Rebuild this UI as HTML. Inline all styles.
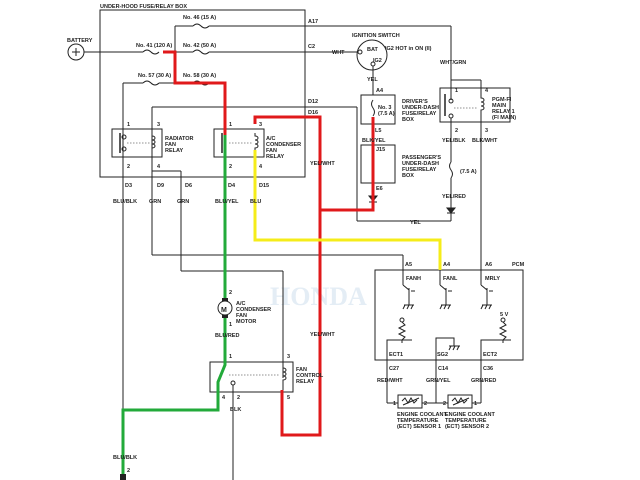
<!DOCTYPE html>
<html><head><meta charset="utf-8"><style>
html,body{margin:0;padding:0;background:#fff;}
svg{display:block;font-family:"Liberation Sans",sans-serif;font-weight:bold;}
text{font-size:5.5px;fill:#222;}
</style></head><body>
<svg width="640" height="480" viewBox="0 0 640 480" xmlns="http://www.w3.org/2000/svg">
<text x="270" y="305" style="font-size:26px;fill:#e4edf5;font-family:'Liberation Serif',serif">HONDA</text>
<g fill="none" stroke="#222" stroke-width="1">
<rect x="100" y="10" width="205" height="167"/>
<circle cx="76" cy="52" r="8"/>
<line x1="72" y1="52" x2="80" y2="52"/><line x1="76" y1="48" x2="76" y2="56"/>
<line x1="84" y1="52" x2="143" y2="52"/>
<path d="M143 52 q4 -4 8 0 q4 4 8 0"/>
<line x1="175" y1="26" x2="175" y2="52"/>
<line x1="175" y1="26" x2="193" y2="26"/><path d="M193 26 q4 -4 8 0 q4 4 8 0"/><line x1="209" y1="26" x2="451" y2="26"/>
<line x1="451" y1="26" x2="451" y2="100"/>
<line x1="175" y1="52" x2="193" y2="52"/><path d="M193 52 q4 -4 8 0 q4 4 8 0"/><line x1="209" y1="52" x2="358" y2="52"/>
<circle cx="360" cy="52" r="2"/>
<line x1="123" y1="83" x2="143" y2="83"/><path d="M143 83 q4 -4 8 0 q4 4 8 0"/><line x1="159" y1="83" x2="175" y2="83"/>
<path d="M193 83 q4 -4 8 0 q4 4 8 0"/>
<line x1="123" y1="83" x2="123" y2="480"/>
<line x1="152" y1="107" x2="357" y2="107"/>
<line x1="357" y1="107" x2="357" y2="221"/>
<line x1="357" y1="221" x2="451" y2="221"/>
<line x1="152" y1="107" x2="152" y2="255"/>
<line x1="152" y1="255" x2="403" y2="255"/>
<line x1="403" y1="255" x2="403" y2="270"/>
<line x1="152" y1="171" x2="181" y2="171"/>
<line x1="181" y1="171" x2="181" y2="271"/>
<line x1="181" y1="271" x2="283" y2="271"/>
<line x1="283" y1="271" x2="283" y2="378"/>
<rect x="112" y="129" width="50" height="28"/>
<line x1="120" y1="133" x2="120" y2="153" stroke-width="1.5"/>
<circle cx="124" cy="137" r="2"/><circle cx="124" cy="149" r="2"/>
<path d="M152 133 v3 c4 0 4 4 0 4 c4 0 4 4 0 4 c4 0 4 4 0 4 v5" />
<line x1="127" y1="143" x2="150" y2="143" stroke-dasharray="1.5,1.5" stroke-width=".6"/>
<rect x="214" y="129" width="50" height="28"/>
<line x1="222" y1="133" x2="222" y2="153" stroke-width="1.5"/>
<path d="M255 133 v3 c4 0 4 4 0 4 c4 0 4 4 0 4 c4 0 4 4 0 4 v5"/>
<line x1="229" y1="143" x2="252" y2="143" stroke-dasharray="1.5,1.5" stroke-width=".6"/>
<circle cx="372" cy="55" r="15"/>
<circle cx="373" cy="64" r="2"/>
<line x1="373" y1="66" x2="373" y2="95"/>
<rect x="361" y="95" width="34" height="29"/>
<rect x="361" y="145" width="34" height="38"/>
<path d="M373 100 q-3 4 0 8 q3 4 0 8"/>
<line x1="373" y1="183" x2="373" y2="196"/>
<path d="M369 196 h8 l-4 5z" fill="#222"/><line x1="369" y1="202" x2="377" y2="202"/>
<rect x="440" y="88" width="70" height="34"/>
<line x1="451" y1="80" x2="481" y2="80"/><line x1="481" y1="80" x2="481" y2="94"/>
<line x1="445" y1="94" x2="445" y2="116" stroke-width="1.5"/>
<circle cx="451" cy="101" r="2"/><circle cx="451" cy="116" r="2"/>
<path d="M481 94 v4 c4 0 4 4 0 4 c4 0 4 4 0 4 c4 0 4 4 0 4 v6"/>
<line x1="454" y1="108" x2="478" y2="108" stroke-dasharray="1.5,1.5" stroke-width=".6"/>
<line x1="451" y1="118" x2="451" y2="162"/>
<path d="M451 162 q-3 4 0 8 q3 4 0 8"/>
<line x1="451" y1="178" x2="451" y2="221"/>
<path d="M447 208 h8 l-4 5z" fill="#222"/><line x1="447" y1="213" x2="455" y2="213"/>
<line x1="481" y1="116" x2="481" y2="270"/>
<rect x="375" y="270" width="148" height="90"/>
<line x1="403" y1="270" x2="403" y2="285"/><line x1="440" y1="270" x2="440" y2="285"/><line x1="481" y1="270" x2="481" y2="285"/>
<path d="M403 285 l6 5 v5 M409 288 v6 M411 291 h4 M409 295 v10 M404 305 h10 M405 305 l-2 4 M409 305 l-2 4 M413 305 l-2 4"/>
<path d="M440 285 l6 5 v5 M446 288 v6 M448 291 h4 M446 295 v10 M441 305 h10 M442 305 l-2 4 M446 305 l-2 4 M450 305 l-2 4"/>
<path d="M481 285 l6 5 v5 M487 288 v6 M489 291 h4 M487 295 v10 M482 305 h10 M483 305 l-2 4 M487 305 l-2 4 M491 305 l-2 4"/>
<circle cx="402" cy="320" r="2"/>
<path d="M402 322 l3 3 l-6 3 l6 3 l-6 3 l6 3 l-3 3 v3 M387 345 v-5 h25"/>
<line x1="387" y1="345" x2="387" y2="360"/>
<circle cx="503" cy="320" r="2"/>
<path d="M503 322 l3 3 l-6 3 l6 3 l-6 3 l6 3 l-3 3 v3 M481 345 v-5 h30"/>
<line x1="481" y1="345" x2="481" y2="360"/>
<path d="M436 360 v-22 h18 v8 M449 346 h11 M451 346 l-2 4 M455 346 l-2 4 M459 346 l-2 4"/>
<line x1="387" y1="360" x2="387" y2="403"/><line x1="436" y1="360" x2="436" y2="403"/><line x1="481" y1="360" x2="481" y2="403"/>
<line x1="387" y1="403" x2="398" y2="403"/><line x1="422" y1="403" x2="448" y2="403"/><line x1="472" y1="403" x2="481" y2="403"/>
<rect x="398" y="395" width="24" height="13"/><rect x="448" y="395" width="24" height="13"/>
<path d="M402 401 l3 -3 l3 5 l3 -5 l3 5 l3 -3 M403 405 l16 -7"/>
<path d="M452 401 l3 -3 l3 5 l3 -5 l3 5 l3 -3 M453 405 l16 -7"/>
<circle cx="225" cy="308" r="7"/>
<rect x="210" y="362" width="83" height="30"/>
<path d="M283 365 v3 c4 0 4 4 0 4 c4 0 4 4 0 4 c4 0 4 4 0 4 v10"/>
<line x1="229" y1="375" x2="280" y2="375" stroke-dasharray="1.5,1.5" stroke-width=".6"/>
<circle cx="233" cy="383" r="2"/>
<line x1="233" y1="385" x2="233" y2="480"/>
</g>
<g fill="none" stroke-width="3" stroke-linejoin="miter">
<path d="M163 52 H175 V83 H225 V135" stroke="#e0191b"/>
<path d="M255 124 V117 H320 V435 H282 V390" stroke="#e0191b"/>
<path d="M320 210 H373 V117" stroke="#e0191b"/>
<path d="M225 135 V300 M225 316 V365 L218 382 V410 H123 V480" stroke="#22aa3a"/>
<path d="M255 150 V240 H440 V270" stroke="#f5ec1a"/>
</g>
<g fill="#222"><rect x="222" y="298" width="6" height="3"/><rect x="222" y="315" width="6" height="3"/><rect x="120" y="474" width="6" height="6"/></g>
<text x="221" y="312" style="font-size:7px">M</text>
<text x="100" y="8">UNDER-HOOD FUSE/RELAY BOX</text>
<text x="67" y="42">BATTERY</text>
<text x="183" y="19">No. 46 (15 A)</text>
<text x="136" y="47">No. 41 (120 A)</text>
<text x="183" y="47">No. 42 (50 A)</text>
<text x="138" y="77">No. 57 (30 A)</text>
<text x="183" y="77">No. 58 (30 A)</text>
<text x="308" y="23">A17</text><text x="308" y="48">C2</text><text x="332" y="54">WHT</text>
<text x="308" y="103">D12</text><text x="308" y="114">D16</text>
<text x="127" y="126">1</text><text x="157" y="126">3</text><text x="127" y="168">2</text><text x="157" y="168">4</text>
<text x="165" y="140">RADIATOR</text><text x="165" y="146">FAN</text><text x="165" y="152">RELAY</text>
<text x="229" y="126">1</text><text x="259" y="126">3</text><text x="229" y="168">2</text><text x="259" y="168">4</text>
<text x="266" y="140">A/C</text><text x="266" y="146">CONDENSER</text><text x="266" y="152">FAN</text><text x="266" y="158">RELAY</text>
<text x="310" y="165">YEL/WHT</text>
<text x="125" y="187">D3</text><text x="157" y="187">D9</text><text x="185" y="187">D6</text><text x="228" y="187">D4</text><text x="259" y="187">D15</text>
<text x="113" y="203">BLU/BLK</text><text x="149" y="203">GRN</text><text x="177" y="203">GRN</text><text x="215" y="203">BLU/YEL</text><text x="250" y="203">BLU</text>
<text x="352" y="37">IGNITION SWITCH</text><text x="367" y="51">BAT</text><text x="385" y="50">IG2 HOT in ON (II)</text><text x="373" y="62">IG2</text>
<text x="367" y="81">YEL</text><text x="376" y="92">A4</text>
<text x="378" y="109">No. 3</text><text x="378" y="115">(7.5 A)</text>
<text x="402" y="103">DRIVER'S</text><text x="402" y="109">UNDER-DASH</text><text x="402" y="115">FUSE/RELAY</text><text x="402" y="121">BOX</text>
<text x="375" y="132">L5</text><text x="362" y="142">BLK/YEL</text><text x="376" y="151">J15</text>
<text x="402" y="159">PASSENGER'S</text><text x="402" y="165">UNDER-DASH</text><text x="402" y="171">FUSE/RELAY</text><text x="402" y="177">BOX</text>
<text x="376" y="190">E6</text><text x="410" y="224">YEL</text>
<text x="440" y="64">WHT/GRN</text>
<text x="455" y="92">1</text><text x="485" y="92">4</text><text x="455" y="132">2</text><text x="485" y="132">3</text>
<text x="492" y="101">PGM-FI</text><text x="492" y="107">MAIN</text><text x="492" y="113">RELAY 1</text><text x="492" y="119">(FI MAIN)</text>
<text x="442" y="142">YEL/BLK</text><text x="472" y="142">BLK/WHT</text><text x="460" y="173">(7.5 A)</text><text x="442" y="198">YEL/RED</text>
<text x="405" y="266">A5</text><text x="443" y="266">A4</text><text x="485" y="266">A6</text><text x="512" y="266">PCM</text>
<text x="406" y="280">FANH</text><text x="443" y="280">FANL</text><text x="485" y="280">MRLY</text>
<text x="500" y="316">5 V</text>
<text x="389" y="356">ECT1</text><text x="437" y="356">SG2</text><text x="483" y="356">ECT2</text>
<text x="389" y="370">C27</text><text x="438" y="370">C14</text><text x="483" y="370">C36</text>
<text x="377" y="382">RED/WHT</text><text x="426" y="382">GRN/YEL</text><text x="471" y="382">GRN/RED</text>
<text x="393" y="405">1</text><text x="424" y="405">2</text><text x="443" y="405">2</text><text x="474" y="405">1</text>
<text x="397" y="416">ENGINE COOLANT</text><text x="397" y="422">TEMPERATURE</text><text x="397" y="428">(ECT) SENSOR 1</text>
<text x="445" y="416">ENGINE COOLANT</text><text x="445" y="422">TEMPERATURE</text><text x="445" y="428">(ECT) SENSOR 2</text>
<text x="229" y="294">2</text><text x="229" y="326">1</text>
<text x="236" y="305">A/C</text><text x="236" y="311">CONDENSER</text><text x="236" y="317">FAN</text><text x="236" y="323">MOTOR</text>
<text x="215" y="337">BLU/RED</text>
<text x="229" y="358">1</text><text x="287" y="358">3</text><text x="222" y="399">4</text><text x="237" y="399">2</text><text x="287" y="399">5</text>
<text x="296" y="371">FAN</text><text x="296" y="377">CONTROL</text><text x="296" y="383">RELAY</text>
<text x="310" y="336">YEL/WHT</text><text x="230" y="411">BLK</text>
<text x="113" y="459">BLU/BLK</text><text x="127" y="472">2</text>
</svg>
</body></html>
